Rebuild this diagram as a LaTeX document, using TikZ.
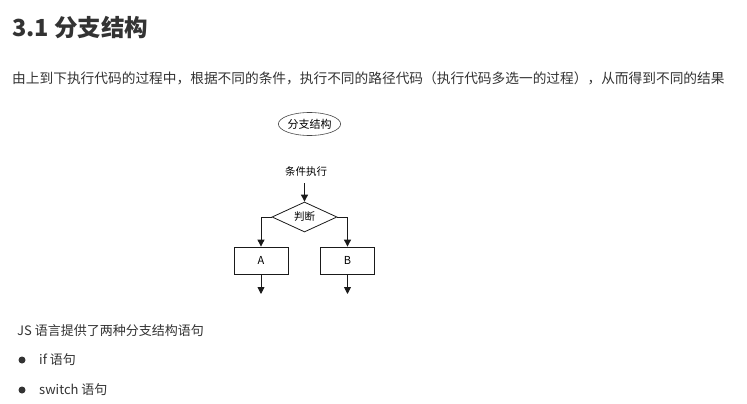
\documentclass[tikz,border=0pt]{standalone}
\usepackage{fontspec}
\setmainfont{Noto Sans CJK SC}
\usetikzlibrary{shapes.geometric,arrows.meta}
\definecolor{txt}{HTML}{333333}
\definecolor{ln}{HTML}{1A1A1A}
\tikzset{
  plain/.style={inner sep=0pt,text=txt,anchor=west},
  flow/.style={draw=ln,line width=0.9pt,-{Triangle[length=7pt,width=7pt]}},
  boxnode/.style={draw=ln,line width=0.8pt,minimum width=54pt,minimum height=27pt,inner sep=0pt,font=\fontsize{11}{13}\selectfont},
  bullet/.style={circle,fill=txt,inner sep=0pt,minimum size=7pt}
}
\begin{document}
\begin{tikzpicture}[x=1pt,y=-1pt]
\useasboundingbox (0,0) rectangle (747,404);
\fill[white] (0,0) rectangle (747,404);
\node[plain,font=\fontsize{23.5}{26}\selectfont\bfseries] (title) at (12,28) {3.1 分支结构};
\node[plain,font=\fontsize{13.7}{16}\selectfont] (intro) at (12,78) {由上到下执行代码的过程中，根据不同的条件，执行不同的路径代码（执行代码多选一的过程），从而得到不同的结果};
\node[ellipse,draw=ln!80,line width=0.6pt,minimum width=57pt,minimum height=23pt,inner sep=0pt,font=\fontsize{11}{13}\selectfont] (ell) at (309.5,124) {分支结构};
\node[inner sep=0pt,font=\fontsize{10.5}{12}\selectfont] (cond) at (306,172) {条件执行};
\node[diamond,draw=ln,line width=0.8pt,minimum width=65pt,minimum height=30pt,inner sep=0pt,aspect=2.17,font=\fontsize{10.5}{12}\selectfont] (dec) at (304.5,217) {判断};
\node[boxnode] (A) at (261,260.5) {A};
\node[boxnode] (B) at (347.5,260.5) {B};
\coordinate (aout) at (261,294);
\coordinate (bout) at (347.5,294);
\draw[flow] ([yshift=-6pt]cond.south -| dec.north) -- (dec.north);
\draw[flow] (dec.west) -| (A.north);
\draw[flow] (dec.east) -| (B.north);
\draw[flow] (A.south) -- (aout);
\draw[flow] (B.south) -- (bout);
\node[plain,font=\fontsize{13}{15}\selectfont] (js) at (17,331) {JS 语言提供了两种分支结构语句};
\node[bullet] (b1) at (22,360) {};
\node[plain,font=\fontsize{13}{15}\selectfont] (if) at (39,360) {if 语句};
\node[bullet] (b2) at (22,390) {};
\node[plain,font=\fontsize{13}{15}\selectfont] (sw) at (39,390) {switch 语句};
\end{tikzpicture}
\end{document}
